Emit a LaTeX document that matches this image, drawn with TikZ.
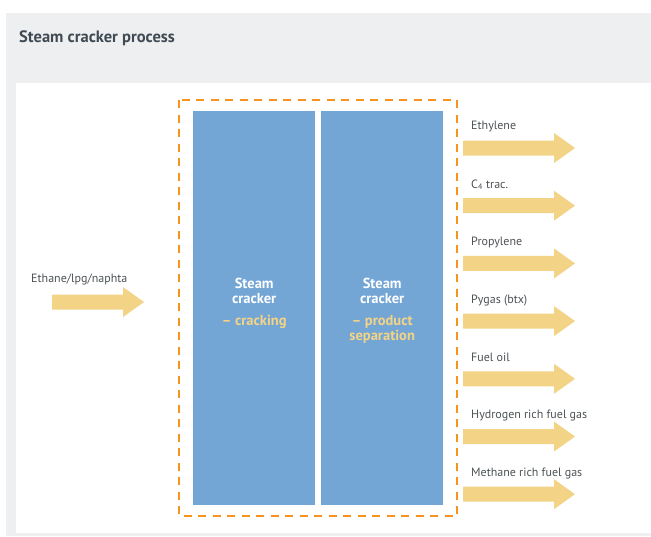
\documentclass[tikz,border=0pt]{standalone}
\usepackage{fontspec}
\setmainfont{PT Sans}
\definecolor{panelgrey}{RGB}{238,239,241}
\definecolor{titlegrey}{RGB}{64,74,82}
\definecolor{labelgrey}{RGB}{77,83,87}
\definecolor{unitblue}{RGB}{115,165,213}
\definecolor{flowyellow}{RGB}{243,212,134}
\definecolor{limitorange}{RGB}{247,148,29}
\begin{document}
\begin{tikzpicture}[x=1pt,y=-1pt,
  unit/.style={fill=unitblue,draw=none,minimum width=122pt,minimum height=394pt,
    inner sep=0pt,anchor=north west},
  unittext/.style={text=white,font=\bfseries\fontsize{14.5}{15}\selectfont,align=center},
  flowlabel/.style={text=labelgrey,font=\fontsize{12}{14}\selectfont,anchor=west,inner sep=0pt},
  pics/flowarrow/.style n args={2}{code={
    \fill[flowyellow] (0,-7.5) -- (#1,-7.5) -- (#1,-15) -- (#1+#2,0)
      -- (#1,15) -- (#1,7.5) -- (0,7.5) -- cycle;}}
]
% page and panel
\useasboundingbox (0,0) rectangle (651,536);
\fill[white] (0,0) rectangle (651,536);
\fill[panelgrey] (6,13) rectangle (651,536);
\fill[white] (16,83) rectangle (651,533);
\node[anchor=west,text=titlegrey,font=\bfseries\fontsize{16.5}{19}\selectfont,inner sep=0pt]
  (title) at (19,38.5) {Steam cracker process};

% battery limit of the steam cracker
\draw[limitorange,line width=2.6pt,dash pattern=on 8pt off 6.5pt]
  (179,100) rectangle (457,516);

% the two process units
\node[unit] (crack) at (193,111) {};
\node[unit] (sep) at (321,111) {};
\node[unittext,anchor=north] (cracktxt) at ([yshift=-164pt]crack.north)
  {Steam\\cracker\\[7pt]\textcolor{flowyellow}{– cracking}};
\node[unittext,anchor=north] (septxt) at ([yshift=-164pt]sep.north)
  {Steam\\cracker\\[7pt]\textcolor{flowyellow}{– product}\\\textcolor{flowyellow}{separation}};

% feed
\node[flowlabel] (feed) at (31,279) {Ethane/lpg/naphta};
\pic at (52,302) {flowarrow={71}{21}};

% products
\foreach \name/\txt [count=\i from 0] in {
  eth/Ethylene,
  cfour/{C\textsubscript{4} trac.},
  prop/Propylene,
  pyg/Pygas (btx),
  foil/Fuel oil,
  hyd/Hydrogen rich fuel gas,
  meth/Methane rich fuel gas}{
  \pgfmathsetmacro{\yc}{148+57.7*\i}
  \node[flowlabel] (\name) at (471,\yc-21) {\txt};
  \pic at (463,\yc) {flowarrow={91}{21}};
}
\end{tikzpicture}
\end{document}
